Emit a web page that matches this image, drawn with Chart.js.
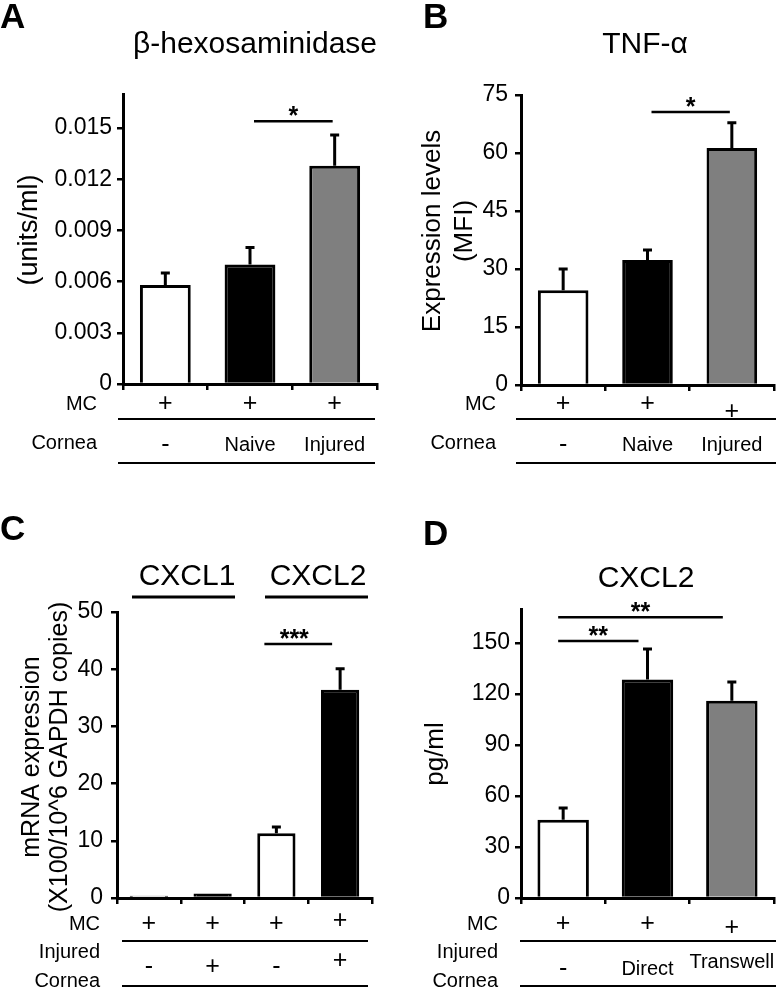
<!DOCTYPE html>
<html><head><meta charset="utf-8">
<script src="https://cdn.jsdelivr.net/npm/chart.js@4.4.1/dist/chart.umd.min.js"></script>
<style>
html,body{margin:0;padding:0;background:#fff;}
#wrap{position:relative;width:776px;height:988px;background:#fff;}
canvas{position:absolute;}
</style></head><body>
<div id="wrap">
<canvas id="cA" width="388" height="494" style="left:0;top:0;width:388px;height:494px"></canvas>
<canvas id="cB" width="388" height="494" style="left:388px;top:0;width:388px;height:494px"></canvas>
<canvas id="cC" width="388" height="494" style="left:0;top:494px;width:388px;height:494px"></canvas>
<canvas id="cD" width="388" height="494" style="left:388px;top:494px;width:388px;height:494px"></canvas>
</div>
<script>
// ---------- DATA ----------
// Panel A: beta-hexosaminidase (units/ml)
const catsA = ['-', 'Naive', 'Injured'];
const valsA = [0.0058, 0.0070, 0.0128];
const errA  = [0.0007, 0.0010, 0.0018];
const ticksA = [0, 0.003, 0.006, 0.009, 0.012, 0.015];
const mcA = ['+', '+', '+'];

// Panel B: TNF-alpha (MFI)
const catsB = ['-', 'Naive', 'Injured'];
const valsB = [24.5, 32.3, 61.3];
const errB  = [5.5, 2.6, 6.5];
const ticksB = [0, 15, 30, 45, 60, 75];
const mcB = ['+', '+', '+'];

// Panel C: CXCL1 / CXCL2 mRNA
const catsC = ['-', '+', '-', '+'];
const valsC = [0.4, 0.8, 11.3, 36.4];
const errC  = [0, 0, 1.1, 3.7];
const ticksC = [0, 10, 20, 30, 40, 50];
const mcC = ['+', '+', '+', '+'];

// Panel D: CXCL2 protein (pg/ml)
const catsD = ['-', 'Direct', 'Transwell'];
const valsD = [46, 128.5, 116];
const errD  = [7, 18, 11];
const ticksD = [0, 30, 60, 90, 120, 150];
const mcD = ['+', '+', '+'];

// ---------- STYLE / LAYOUT ----------
const FONT = "'Liberation Sans', Arial, Helvetica, sans-serif";
const W = 388, H = 494;
const WHITE = '#ffffff', BLACK = '#000000', GRAY = '#7f7f7f';
Chart.defaults.font.family = FONT;
Chart.defaults.color = '#000';

function fmtA(v){ return v === 0 ? '0' : v.toFixed(3); }

function decor(p) {
  return {
    id: 'decor_' + p.id,
    afterDatasetsDraw(chart) {
      const ctx = chart.ctx, y = chart.scales.y;
      const meta = chart.getDatasetMeta(0);
      ctx.save();
      ctx.strokeStyle = '#000'; ctx.lineWidth = 3; ctx.lineCap = 'butt';
      meta.data.forEach((bar, i) => {
        const e = p.err[i];
        if (!e) return;
        const yTop = y.getPixelForValue(p.vals[i] + e);
        ctx.beginPath();
        ctx.moveTo(bar.x, bar.y); ctx.lineTo(bar.x, yTop);
        ctx.moveTo(bar.x - 4.5, yTop); ctx.lineTo(bar.x + 4.5, yTop);
        ctx.stroke();
      });
      ctx.restore();
    },
    afterDraw(chart) {
      const ctx = chart.ctx, xs = chart.scales.x, ys = chart.scales.y;
      ctx.save();
      ctx.fillStyle = '#000'; ctx.strokeStyle = '#000';
      // panel letter
      ctx.font = 'bold 35px ' + FONT;
      ctx.textAlign = 'left'; ctx.textBaseline = 'alphabetic';
      ctx.fillText(p.letter.text, p.letter.x, p.letter.y);
      // titles
      ctx.font = '30px ' + FONT;
      ctx.textAlign = 'center'; ctx.textBaseline = 'middle';
      p.titles.forEach(t => ctx.fillText(t.text, t.x, t.y));
      ctx.lineWidth = 3;
      (p.titleLines || []).forEach(l => {
        ctx.beginPath(); ctx.moveTo(l.x1, l.y); ctx.lineTo(l.x2, l.y); ctx.stroke();
      });
      // y title
      ctx.font = p.ytitle.size + 'px ' + FONT;
      ctx.textAlign = 'center'; ctx.textBaseline = 'middle';
      p.ytitle.lines.forEach((t, k) => {
        ctx.save();
        ctx.translate(p.ytitle.xs[k], p.ytitle.y);
        ctx.rotate(-Math.PI / 2);
        ctx.fillText(t, 0, 0);
        ctx.restore();
      });
      // rows below axis
      ctx.lineWidth = 2;
      p.rows.forEach(r => {
        ctx.textBaseline = 'middle';
        ctx.textAlign = 'right';
        ctx.font = '20px ' + FONT;
        r.head.forEach((h, k) => ctx.fillText(h, p.headX, r.headY[k]));
        ctx.textAlign = 'center';
        r.labels.forEach((lab, i) => {
          ctx.font = (lab === '+' || lab === '-' ? '25px ' : '20px ') + FONT;
          const yy = (r.valYs && r.valYs[i] !== undefined) ? r.valYs[i] : r.y;
          ctx.fillText(lab, xs.getPixelForValue(i), yy);
        });
        ctx.beginPath(); ctx.moveTo(p.lineX1, r.lineY); ctx.lineTo(p.lineX2, r.lineY); ctx.stroke();
      });
      // significance
      p.sig.forEach(s => {
        const x1 = xs.getPixelForValue(s.a) + (s.o1 || 0), x2 = xs.getPixelForValue(s.b) + (s.o2 || 0);
        const yy = ys.getPixelForValue(s.v);
        ctx.lineWidth = 2.5;
        ctx.beginPath(); ctx.moveTo(x1, yy); ctx.lineTo(x2, yy); ctx.stroke();
        ctx.font = 'bold 25px ' + FONT;
        ctx.textAlign = 'center'; ctx.textBaseline = 'alphabetic';
        ctx.fillText(s.t, (x1 + x2) / 2 + (s.dx || 0), yy + 3);
      });
      ctx.restore();
    }
  };
}

function makePanel(p) {
  return new Chart(document.getElementById(p.id), {
    type: 'bar',
    data: {
      labels: p.cats,
      datasets: [{
        data: p.vals,
        backgroundColor: p.colors,
        borderColor: '#000',
        borderWidth: 3,
        borderSkipped: 'start',
        barPercentage: p.barPct,
        categoryPercentage: 1
      }]
    },
    options: {
      responsive: false, animation: false, devicePixelRatio: 1,
      layout: { padding: { left: 0, top: p.area.top, right: W - p.area.right, bottom: 0 } },
      plugins: { legend: { display: false }, tooltip: { enabled: false }, title: { display: false } },
      scales: {
        x: {
          offset: true,
          grid: { display: true, drawOnChartArea: false, drawTicks: true, tickLength: 6, lineWidth: 2.5, color: '#000', offset: true },
          border: { display: true, color: '#000', width: 3 },
          ticks: { display: false },
          afterFit: s => { s.height = H - p.area.bottom; }
        },
        y: {
          min: 0, max: p.max,
          grid: { display: true, drawOnChartArea: false, drawTicks: true, tickLength: 6, lineWidth: 2.5, color: '#000' },
          border: { display: true, color: '#000', width: 3 },
          afterBuildTicks: s => { s.ticks = p.yTicks.map(v => ({ value: v })); },
          ticks: { font: { size: 23, family: FONT }, color: '#000', padding: p.tickPad, callback: p.fmt },
          afterFit: s => { s.width = p.area.left; }
        }
      }
    },
    plugins: [decor(p)]
  });
}

makePanel({
  id: 'cA', cats: catsA, vals: valsA, err: errA, yTicks: ticksA, max: 0.017,
  colors: [WHITE, BLACK, GRAY], barPct: 0.6, tickPad: 5, fmt: v => fmtA(v),
  area: { left: 123, right: 377, top: 94, bottom: 384 },
  letter: { text: 'A', x: 0, y: 28 },
  titles: [{ text: 'β-hexosaminidase', x: 255, y: 45 }],
  ytitle: { lines: ['(units/ml)'], xs: [30], y: 230, size: 27 },
  headX: 97, lineX1: 118, lineX2: 375,
  rows: [
    { head: ['MC'], headY: [404], labels: mcA, y: 404, lineY: 419 },
    { head: ['Cornea'], headY: [443], labels: catsA, y: 445, lineY: 463 }
  ],
  sig: [{ a: 1, b: 2, v: 0.0154, t: '*', o1: 4, o2: -2 }]
});

makePanel({
  id: 'cB', cats: catsB, vals: valsB, err: errB, yTicks: ticksB, max: 75,
  colors: [WHITE, BLACK, GRAY], barPct: 0.6, tickPad: 7, fmt: v => String(v),
  area: { left: 133, right: 386, top: 95, bottom: 385 },
  letter: { text: 'B', x: 35, y: 28 },
  titles: [{ text: 'TNF-α', x: 257, y: 45 }],
  ytitle: { lines: ['Expression levels', '(MFI)'], xs: [45, 77], y: 231, size: 26 },
  headX: 108, lineX1: 128, lineX2: 388,
  rows: [
    { head: ['MC'], headY: [404], labels: mcB, y: 404, valYs: [404, 404, 412], lineY: 419 },
    { head: ['Cornea'], headY: [443], labels: catsB, y: 445, lineY: 463 }
  ],
  sig: [{ a: 1, b: 2, v: 70.6, t: '*', o1: 4, o2: -2 }]
});

makePanel({
  id: 'cC', cats: catsC, vals: valsC, err: errC, yTicks: ticksC, max: 50,
  colors: [WHITE, BLACK, WHITE, BLACK], barPct: 0.6, tickPad: 8, fmt: v => String(v),
  area: { left: 117, right: 372, top: 118, bottom: 404 },
  letter: { text: 'C', x: 0, y: 46 },
  titles: [{ text: 'CXCL1', x: 187, y: 83 }, { text: 'CXCL2', x: 318, y: 83 }],
  titleLines: [{ x1: 132, x2: 235, y: 103 }, { x1: 265, x2: 368, y: 103 }],
  ytitle: { lines: ['mRNA expression', '(X100/10^6 GAPDH copies)'], xs: [32, 60], y: 263, size: 25 },
  headX: 100, lineX1: 122, lineX2: 368,
  rows: [
    { head: ['MC'], headY: [430], labels: mcC, y: 430, valYs: [430, 430, 430, 427], lineY: 447 },
    { head: ['Injured', 'Cornea'], headY: [458, 487], labels: catsC, y: 473, valYs: [473, 473, 473, 467], lineY: 492 }
  ],
  sig: [{ a: 2, b: 3, v: 44.4, t: '***', o1: -12, o2: -8, dx: -4 }]
});

makePanel({
  id: 'cD', cats: catsD, vals: valsD, err: errD, yTicks: ticksD, max: 170,
  colors: [WHITE, BLACK, GRAY], barPct: 0.61, tickPad: 5, fmt: v => String(v),
  area: { left: 133, right: 386, top: 115, bottom: 404 },
  letter: { text: 'D', x: 35, y: 51 },
  titles: [{ text: 'CXCL2', x: 258, y: 85 }],
  ytitle: { lines: ['pg/ml'], xs: [48], y: 260, size: 26 },
  headX: 110, lineX1: 132, lineX2: 388,
  rows: [
    { head: ['MC'], headY: [430], labels: mcD, y: 430, valYs: [430, 430, 434], lineY: 447 },
    { head: ['Injured', 'Cornea'], headY: [458, 487], labels: catsD, y: 474, valYs: [475, 475, 468], lineY: 492 }
  ],
  sig: [{ a: 0, b: 1, v: 151.2, t: '**', o1: -5, o2: -9 }, { a: 0, b: 2, v: 165.2, t: '**', o1: -5, o2: -9 }]
});
</script>
</body></html>
